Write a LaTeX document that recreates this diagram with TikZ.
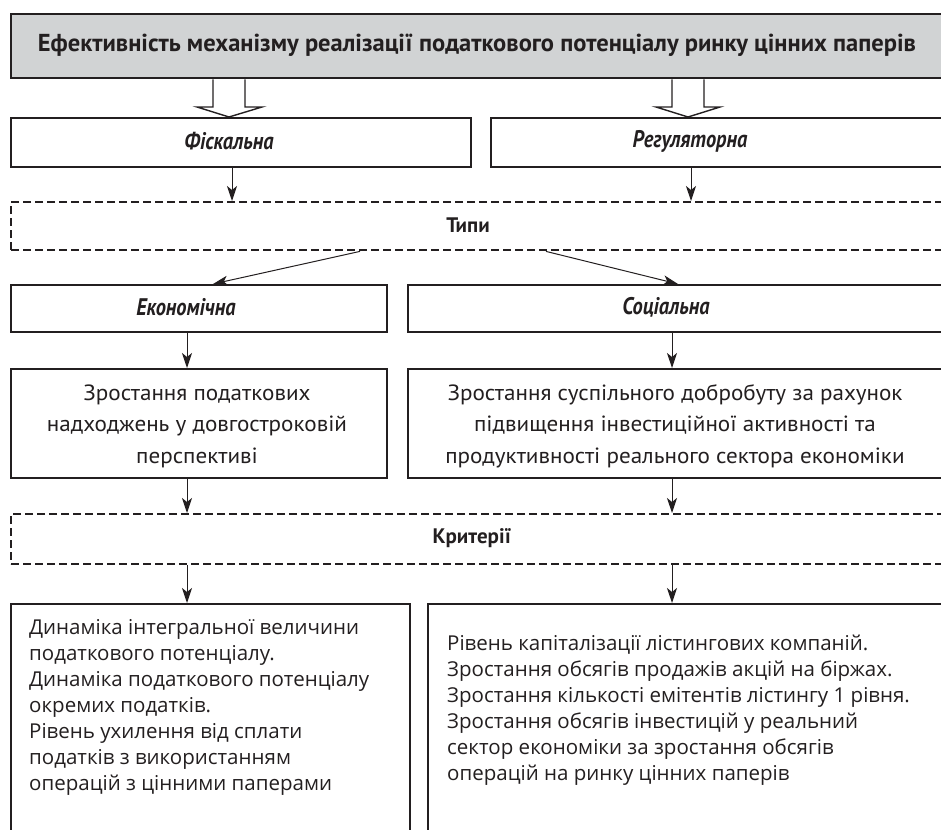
\documentclass[tikz,border=0pt]{standalone}
\usepackage{fontspec}
\setmainfont{Open Sans}
\newfontfamily\hdf{PT Sans}
\newfontfamily\labf[FakeStretch=0.85]{PT Sans}
\newfontfamily\midf[FakeStretch=1.05]{PT Sans}
\usetikzlibrary{arrows.meta,calc}
\definecolor{ink}{HTML}{231F20}
\definecolor{fillg}{HTML}{D1D3D4}
\begin{document}
\begin{tikzpicture}[x=1pt,y=-1pt,
  box/.style={draw=ink, line width=2.4pt, rectangle, inner sep=0pt, anchor=north west},
  dbox/.style={box, dash pattern=on 8pt off 4pt},
  arr/.style={draw=ink, line width=1pt, -{Stealth[length=15pt,width=10pt,inset=4pt]}},
  hol/.style={draw=ink, line width=1.4pt, line join=miter},
  txt/.style={text=ink, inner sep=0pt},
  ttlfont/.style={font=\hdf\bfseries\fontsize{24.5}{28}\selectfont},
  hdfont/.style={font=\hdf\bfseries\fontsize{21}{25}\selectfont},
  labfont/.style={font=\labf\bfseries\itshape\fontsize{24}{28}\selectfont},
  midfont/.style={font=\midf\fontsize{22}{31.5}\selectfont},
  lowfont/.style={font=\fontsize{20.5}{26}\selectfont}]
\useasboundingbox (0,0) rectangle (941,829);
\clip (0,0) rectangle (941,829);
% boxes
\node[box, fill=fillg, minimum width=940pt, minimum height=64pt] (top) at (10,13) {};
\node[box, minimum width=460pt, minimum height=49pt] (fisk) at (10,117) {};
\node[box, minimum width=460pt, minimum height=49pt] (reg) at (490,117) {};
\node[dbox, minimum width=940pt, minimum height=48pt] (typy) at (10,201) {};
\node[box, minimum width=376pt, minimum height=47pt] (econ) at (10,284) {};
\node[box, minimum width=543pt, minimum height=47pt] (soc) at (407,284) {};
\node[box, minimum width=376pt, minimum height=109pt] (m1) at (10,368) {};
\node[box, minimum width=543pt, minimum height=109pt] (m2) at (407,368) {};
\node[dbox, minimum width=940pt, minimum height=50pt] (krit) at (10,513) {};
\node[box, minimum width=399pt, minimum height=300pt] (b1) at (10,603) {};
\node[box, minimum width=523pt, minimum height=300pt] (b2) at (427,603) {};
% texts
\node[txt, ttlfont] (ttl) at (477,45) {Ефективність механізму реалізації податкового потенціалу ринку цінних паперів};
\node[txt, labfont] (tf) at (229,141) {Фіскальна};
\node[txt, labfont] (tr) at (690,141) {Регуляторна};
\node[txt, hdfont] (tt) at (468,225) {Типи};
\node[txt, labfont] (te) at (186,307) {Економічна};
\node[txt, labfont] (ts) at (666,307) {Соціальна};
\node[txt, midfont, align=center] (tm1) at (197,426) {Зростання податкових\\надходжень у довгостроковій\\перспективі};
\node[txt, midfont, align=center] (tm2) at (675,426) {Зростання суспільного добробуту за рахунок\\підвищення інвестиційної активності та\\продуктивності реального сектора економіки};
\node[txt, hdfont] (tk) at (472,538) {Критерії};
\node[txt, lowfont, align=left, anchor=north west] (tb1) at (29,619) {Динаміка інтегральної величини\\податкового потенціалу.\\Динаміка податкового потенціалу\\окремих податків.\\Рівень ухилення від сплати\\податків з використанням\\операцій з цінними паперами};
\node[txt, lowfont, align=left, anchor=north west] (tb2) at (447,635) {Рівень капіталізації лістингових компаній.\\Зростання обсягів продажів акцій на біржах.\\Зростання кількості емітентів лістингу 1 рівня.\\Зростання обсягів інвестицій у реальний\\сектор економіки за зростання обсягів\\операцій на ринку цінних паперів};
% coordinates for connector positions
\coordinate (xh1) at (229,0);
\coordinate (xh2) at (688,0);
\coordinate (xf) at (232,0);
\coordinate (xr) at (691,0);
\coordinate (xs1) at (360,0);
\coordinate (xe1) at (213,0);
\coordinate (xs2) at (546,0);
\coordinate (xe2) at (678,0);
\coordinate (xl) at (187,0);
\coordinate (xrr) at (672,0);
% hollow arrows
\draw[hol] ($(top.south -| xh1)+(-16,0)$) -- ($(fisk.north -| xh1)+(-16,-10)$) -- ($(fisk.north -| xh1)+(-32,-10)$) -- (fisk.north -| xh1) -- ($(fisk.north -| xh1)+(33,-10)$) -- ($(fisk.north -| xh1)+(16,-10)$) -- ($(top.south -| xh1)+(16,0)$);
\draw[hol] ($(top.south -| xh2)+(-16,0)$) -- ($(reg.north -| xh2)+(-16,-10)$) -- ($(reg.north -| xh2)+(-32,-10)$) -- (reg.north -| xh2) -- ($(reg.north -| xh2)+(32,-10)$) -- ($(reg.north -| xh2)+(16,-10)$) -- ($(top.south -| xh2)+(16,0)$);
% thin arrows
\draw[arr] (fisk.south -| xf) -- (typy.north -| xf);
\draw[arr] (reg.south -| xr) -- (typy.north -| xr);
\draw[arr] (typy.south -| xs1) -- (econ.north -| xe1);
\draw[arr] (typy.south -| xs2) -- (soc.north -| xe2);
\draw[arr] (econ.south -| xl) -- (m1.north -| xl);
\draw[arr] (soc.south -| xrr) -- (m2.north -| xrr);
\draw[arr] (m1.south -| xl) -- (krit.north -| xl);
\draw[arr] (m2.south -| xrr) -- (krit.north -| xrr);
\draw[arr] (krit.south -| xl) -- (b1.north -| xl);
\draw[arr] (krit.south -| xrr) -- (b2.north -| xrr);
\end{tikzpicture}
\end{document}
